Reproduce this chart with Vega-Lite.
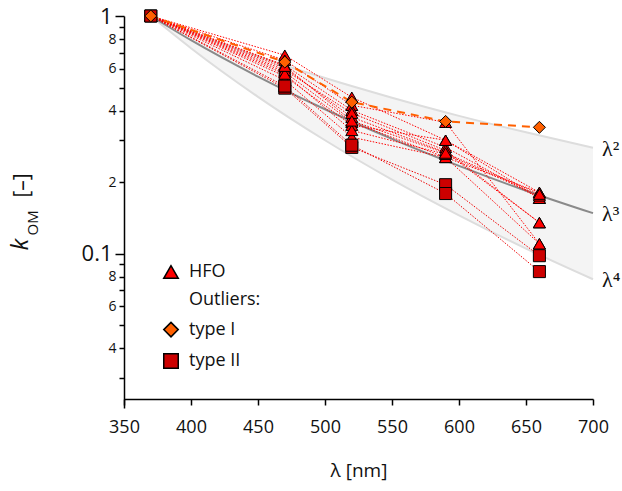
{
  "$schema": "https://vega.github.io/schema/vega-lite/v6.json",
  "autosize": {"type": "none"},
  "padding": {"left": 124, "top": 16, "right": 29, "bottom": 83},
  "width": 469,
  "height": 392,
  "background": "white",
  "config": {"view": {"stroke": null}},
  "datasets": {
    "curves": [
      {"lambda": 370, "k2": 1, "k3": 1, "k4": 1},
      {"lambda": 400, "k2": 0.856, "k3": 0.791, "k4": 0.732},
      {"lambda": 450, "k2": 0.676, "k3": 0.556, "k4": 0.457},
      {"lambda": 500, "k2": 0.548, "k3": 0.405, "k4": 0.300},
      {"lambda": 550, "k2": 0.453, "k3": 0.304, "k4": 0.205},
      {"lambda": 600, "k2": 0.380, "k3": 0.234, "k4": 0.145},
      {"lambda": 650, "k2": 0.324, "k3": 0.184, "k4": 0.105},
      {"lambda": 700, "k2": 0.279, "k3": 0.148, "k4": 0.078}
    ],
    "labels": [
      {"lambda": 700, "k": 0.279, "t": "λ²"},
      {"lambda": 700, "k": 0.148, "t": "λ³"},
      {"lambda": 700, "k": 0.078, "t": "λ⁴"}
    ],
    "obs": [
      {"s": "H1", "g": "HFO", "lambda": 370, "k": 1}, {"s": "H1", "g": "HFO", "lambda": 470, "k": 0.684}, {"s": "H1", "g": "HFO", "lambda": 520, "k": 0.455}, {"s": "H1", "g": "HFO", "lambda": 590, "k": 0.300}, {"s": "H1", "g": "HFO", "lambda": 660, "k": 0.181},
      {"s": "H2", "g": "HFO", "lambda": 370, "k": 1}, {"s": "H2", "g": "HFO", "lambda": 470, "k": 0.652}, {"s": "H2", "g": "HFO", "lambda": 520, "k": 0.421}, {"s": "H2", "g": "HFO", "lambda": 590, "k": 0.357}, {"s": "H2", "g": "HFO", "lambda": 660, "k": 0.110},
      {"s": "H3", "g": "HFO", "lambda": 370, "k": 1}, {"s": "H3", "g": "HFO", "lambda": 470, "k": 0.621}, {"s": "H3", "g": "HFO", "lambda": 520, "k": 0.401}, {"s": "H3", "g": "HFO", "lambda": 590, "k": 0.280}, {"s": "H3", "g": "HFO", "lambda": 660, "k": 0.171},
      {"s": "H4", "g": "HFO", "lambda": 370, "k": 1}, {"s": "H4", "g": "HFO", "lambda": 470, "k": 0.604}, {"s": "H4", "g": "HFO", "lambda": 520, "k": 0.375}, {"s": "H4", "g": "HFO", "lambda": 590, "k": 0.267}, {"s": "H4", "g": "HFO", "lambda": 660, "k": 0.135},
      {"s": "H5", "g": "HFO", "lambda": 370, "k": 1}, {"s": "H5", "g": "HFO", "lambda": 470, "k": 0.581}, {"s": "H5", "g": "HFO", "lambda": 520, "k": 0.357}, {"s": "H5", "g": "HFO", "lambda": 590, "k": 0.254}, {"s": "H5", "g": "HFO", "lambda": 660, "k": 0.181},
      {"s": "H6", "g": "HFO", "lambda": 370, "k": 1}, {"s": "H6", "g": "HFO", "lambda": 470, "k": 0.558}, {"s": "H6", "g": "HFO", "lambda": 520, "k": 0.347}, {"s": "H6", "g": "HFO", "lambda": 590, "k": 0.300}, {"s": "H6", "g": "HFO", "lambda": 660, "k": 0.171},
      {"s": "H7", "g": "HFO", "lambda": 370, "k": 1}, {"s": "H7", "g": "HFO", "lambda": 470, "k": 0.537}, {"s": "H7", "g": "HFO", "lambda": 520, "k": 0.309}, {"s": "H7", "g": "HFO", "lambda": 590, "k": 0.254}, {"s": "H7", "g": "HFO", "lambda": 660, "k": 0.110},
      {"s": "H8", "g": "HFO", "lambda": 370, "k": 1}, {"s": "H8", "g": "HFO", "lambda": 470, "k": 0.592}, {"s": "H8", "g": "HFO", "lambda": 520, "k": 0.390}, {"s": "H8", "g": "HFO", "lambda": 590, "k": 0.272}, {"s": "H8", "g": "HFO", "lambda": 660, "k": 0.135},
      {"s": "H9", "g": "HFO", "lambda": 370, "k": 1}, {"s": "H9", "g": "HFO", "lambda": 470, "k": 0.570}, {"s": "H9", "g": "HFO", "lambda": 520, "k": 0.330}, {"s": "H9", "g": "HFO", "lambda": 590, "k": 0.262}, {"s": "H9", "g": "HFO", "lambda": 660, "k": 0.175},
      {"s": "H10", "g": "HFO", "lambda": 370, "k": 1}, {"s": "H10", "g": "HFO", "lambda": 470, "k": 0.615}, {"s": "H10", "g": "HFO", "lambda": 520, "k": 0.362}, {"s": "H10", "g": "HFO", "lambda": 590, "k": 0.265}, {"s": "H10", "g": "HFO", "lambda": 660, "k": 0.178},
      {"s": "Q1", "g": "type II", "lambda": 370, "k": 1}, {"s": "Q1", "g": "type II", "lambda": 470, "k": 0.497}, {"s": "Q1", "g": "type II", "lambda": 520, "k": 0.280}, {"s": "Q1", "g": "type II", "lambda": 590, "k": 0.195}, {"s": "Q1", "g": "type II", "lambda": 660, "k": 0.098},
      {"s": "Q2", "g": "type II", "lambda": 370, "k": 1}, {"s": "Q2", "g": "type II", "lambda": 470, "k": 0.507}, {"s": "Q2", "g": "type II", "lambda": 520, "k": 0.286}, {"s": "Q2", "g": "type II", "lambda": 590, "k": 0.179}, {"s": "Q2", "g": "type II", "lambda": 660, "k": 0.084},
      {"s": "T1", "g": "type I", "lambda": 370, "k": 1}, {"s": "T1", "g": "type I", "lambda": 470, "k": 0.640}, {"s": "T1", "g": "type I", "lambda": 520, "k": 0.434}, {"s": "T1", "g": "type I", "lambda": 590, "k": 0.360}, {"s": "T1", "g": "type I", "lambda": 660, "k": 0.340}
    ]
  },
  "encoding": {
    "x": {
      "field": "lambda", "type": "quantitative",
      "scale": {"domain": [350, 700], "nice": false, "zero": false},
      "axis": {
        "values": [350, 400, 450, 500, 550, 600, 650, 700],
        "offset": -9, "grid": false,
        "domainColor": "black", "domainWidth": 1.5, "tickColor": "black", "tickWidth": 1.5, "tickSize": 6,
        "labelFont": "Open Sans", "labelFontSize": 18, "labelColor": "#111", "labelPadding": 13, "labelFlush": false,
        "title": "λ [nm]", "titleFont": "Open Sans", "titleFontSize": 19, "titleFontWeight": "normal", "titleColor": "#111",
        "titleY": 71, "titleBaseline": "middle"
      }
    }
  },
  "resolve": {"axis": {"y": "independent"}},
  "layer": [
    {
      "data": {"name": "curves"},
      "mark": {"type": "area", "color": "#f4f4f4", "interpolate": "monotone"},
      "encoding": {
        "y": {
          "field": "k4", "type": "quantitative",
          "scale": {"type": "log", "domain": [0.0224, 1], "nice": false},
          "axis": {
            "orient": "left", "grid": false,
            "values": [0.03, 0.04, 0.05, 0.06, 0.07, 0.08, 0.09, 0.1, 0.2, 0.3, 0.4, 0.5, 0.6, 0.7, 0.8, 0.9, 1],
            "labelExpr": "datum.value==1?'1':datum.value==0.1?'0.1':indexof([0.8,0.6,0.4,0.2],datum.value)>=0?format(datum.value*10,'.0f'):indexof([0.08,0.06,0.04],datum.value)>=0?format(datum.value*100,'.0f'):''",
            "labelFontSize": {"condition": {"test": "datum.value==1||datum.value==0.1", "value": 22}, "value": 14},
            "tickSize": {"condition": {"test": "datum.value==1||datum.value==0.1", "value": 9}, "value": 5},
            "labelFont": "Open Sans", "labelColor": "#111", "labelPadding": 3, "labelOverlap": false, "labelFlush": false, "labelBound": false,
            "domainColor": "black", "domainWidth": 1.5, "tickColor": "black", "tickWidth": 1.5,
            "title": "k", "titleFont": "Open Sans", "titleFontStyle": "italic", "titleFontWeight": "normal", "titleFontSize": 24, "titleColor": "#111",
            "titleAngle": 270, "titleAlign": "left", "titleBaseline": "alphabetic", "titleX": -97, "titleY": 234
          }
        },
        "y2": {"field": "k2"}
      }
    },
    {
      "data": {"name": "curves"},
      "mark": {"type": "line", "color": "#dddddd", "strokeWidth": 2, "interpolate": "monotone"},
      "encoding": {
        "y": {
          "field": "k2", "type": "quantitative",
          "scale": {"type": "log", "domain": [0.0224, 1], "nice": false},
          "axis": {
            "orient": "left", "grid": false, "domain": false, "ticks": false, "labels": false,
            "title": "OM", "titleFont": "Open Sans", "titleFontWeight": "normal", "titleFontSize": 15, "titleColor": "#111",
            "titleAngle": 270, "titleAlign": "left", "titleBaseline": "alphabetic", "titleX": -87, "titleY": 219
          }
        }
      }
    },
    {
      "data": {"name": "curves"},
      "mark": {"type": "line", "color": "#dddddd", "strokeWidth": 2, "interpolate": "monotone"},
      "encoding": {
        "y": {
          "field": "k4", "type": "quantitative",
          "scale": {"type": "log", "domain": [0.0224, 1], "nice": false},
          "axis": {
            "orient": "left", "grid": false, "domain": false, "ticks": false, "labels": false,
            "title": "[–]", "titleFont": "Open Sans", "titleFontWeight": "normal", "titleFontSize": 21, "titleColor": "#111",
            "titleAngle": 270, "titleAlign": "left", "titleBaseline": "alphabetic", "titleX": -96, "titleY": 181
          }
        }
      }
    },
    {
      "data": {"name": "curves"},
      "mark": {"type": "line", "color": "#8a8a8a", "strokeWidth": 2, "interpolate": "monotone"},
      "encoding": {
        "y": {"field": "k3", "type": "quantitative", "scale": {"type": "log", "domain": [0.0224, 1], "nice": false}, "axis": null}
      }
    },
    {
      "data": {"name": "labels"},
      "mark": {"type": "text", "align": "left", "baseline": "middle", "dx": 9, "dy": 1, "font": "Liberation Serif", "fontSize": 22, "color": "#111"},
      "encoding": {
        "y": {"field": "k", "type": "quantitative", "scale": {"type": "log", "domain": [0.0224, 1], "nice": false}, "axis": null},
        "text": {"field": "t"}
      }
    },
    {
      "data": {"name": "obs"},
      "transform": [{"filter": "datum.g === 'HFO'"}],
      "mark": {"type": "line", "color": "#ff0000", "strokeWidth": 1, "strokeDash": [1.5, 1.5]},
      "encoding": {
        "y": {"field": "k", "type": "quantitative", "scale": {"type": "log", "domain": [0.0224, 1], "nice": false}, "axis": null},
        "detail": {"field": "s"}
      }
    },
    {
      "data": {"name": "obs"},
      "transform": [{"filter": "datum.g === 'type II'"}],
      "mark": {"type": "line", "color": "#ee0000", "strokeWidth": 1, "strokeDash": [1.5, 1.5]},
      "encoding": {
        "y": {"field": "k", "type": "quantitative", "scale": {"type": "log", "domain": [0.0224, 1], "nice": false}, "axis": null},
        "detail": {"field": "s"}
      }
    },
    {
      "data": {"name": "obs"},
      "transform": [{"filter": "datum.g === 'type I'"}],
      "mark": {"type": "line", "color": "#ff6000", "strokeWidth": 2, "strokeDash": [8, 6]},
      "encoding": {
        "y": {"field": "k", "type": "quantitative", "scale": {"type": "log", "domain": [0.0224, 1], "nice": false}, "axis": null},
        "detail": {"field": "s"}
      }
    },
    {
      "data": {"name": "obs"},
      "mark": {"type": "point", "filled": true, "stroke": "black", "strokeWidth": 1, "opacity": 1, "size": 145},
      "encoding": {
        "y": {"field": "k", "type": "quantitative", "scale": {"type": "log", "domain": [0.0224, 1], "nice": false}, "axis": null},
        "shape": {
          "field": "g", "type": "nominal",
          "scale": {"domain": ["HFO", "Outliers:", "type I", "type II"], "range": ["triangle-up", "M0,0", "diamond", "square"]},
          "legend": {
            "title": null, "orient": "none", "legendX": 38, "legendY": 247, "direction": "vertical",
            "labelFont": "Open Sans", "labelFontSize": 18, "labelColor": "#111", "labelLimit": 300, "labelOffset": 9,
            "symbolSize": 210, "rowPadding": 9.3, "padding": 0
          }
        },
        "fill": {
          "field": "g", "type": "nominal",
          "scale": {"domain": ["HFO", "Outliers:", "type I", "type II"], "range": ["#ff0000", "#ffffff", "#ff6000", "#cc0000"]},
          "legend": {
            "title": null, "orient": "none", "legendX": 38, "legendY": 247, "direction": "vertical",
            "labelFont": "Open Sans", "labelFontSize": 18, "labelColor": "#111", "labelLimit": 300, "labelOffset": 9,
            "symbolSize": 210, "rowPadding": 9.3, "padding": 0
          }
        }
      }
    }
  ]
}
